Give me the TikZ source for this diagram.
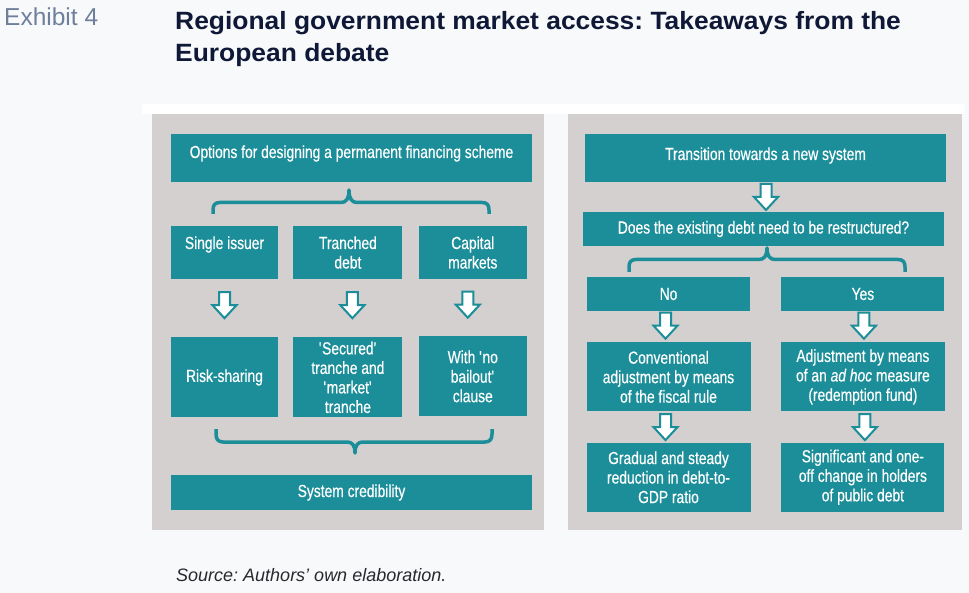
\documentclass[tikz,border=0pt]{standalone}
\usepackage{fontspec}
\setmainfont{Liberation Sans}
\newfontfamily\narrowfont[FakeStretch=0.79, FakeBold=0.4]{Liberation Sans}
\newfontfamily\titlefont[FakeStretch=1.056]{Liberation Sans}
\usepackage{xcolor}
\usetikzlibrary{positioning}
\usetikzlibrary{calc}
\definecolor{boxteal}{RGB}{27,142,153}
\definecolor{panelgray}{RGB}{211,208,207}
\definecolor{pagebg}{RGB}{248,249,251}
\definecolor{titlenavy}{RGB}{15,25,55}
\definecolor{exhibitgray}{RGB}{110,127,155}
\definecolor{sourcegray}{RGB}{40,40,45}
\tikzstyle{tbox} = [rectangle, fill=boxteal, text=white, align=center, inner sep=0pt, font=\narrowfont\fontsize{17.5}{19.5}\selectfont]
\tikzstyle{hollow} = [draw=boxteal, fill=white, line width=2pt, line join=miter]
\tikzstyle{bracel} = [draw=boxteal, line width=3.5pt, line join=round]
\tikzset{downarr/.pic={\path[hollow] (-5.5,-13) -- (5.5,-13) -- (5.5,0) -- (12,0) -- (0,13) -- (-12,0) -- (-5.5,0) -- cycle;}}
\frenchspacing

\begin{document}
\begin{tikzpicture}[x=1pt, y=-1pt]
  \useasboundingbox (0,0) rectangle (969,593);
  \fill[pagebg] (0,0) rectangle (969,593);
  \fill[white] (142,104) rectangle (965,114);
  \fill[panelgray] (152,114) rectangle (544,530);
  \fill[panelgray] (568,114) rectangle (962,530);

  \node[anchor=base west, inner sep=0pt, text=exhibitgray, font=\fontsize{24.5}{28}\selectfont] (exhibit) at (4,26) {Exhibit 4};
  \node[anchor=base west, align=left, inner sep=0pt, text=titlenavy, font=\titlefont\bfseries\fontsize{25}{32.4}\selectfont] (title) at (175,61.9) {Regional government market access: Takeaways from the\\European debate};

  % left panel
  \node[tbox, minimum width=361pt, text height=24pt, text depth=24pt] (opts) at (351.5,158) {Options for designing a permanent financing scheme};
  \node[tbox, minimum width=107pt, text height=23pt, text depth=30pt] (single) at (224.5,252.5) {Single issuer};
  \node[tbox, minimum width=109pt, text height=42.5pt, text depth=10.5pt, right=15pt of single] (tranched) {Tranched\\debt};
  \node[tbox, minimum width=108pt, text height=42.5pt, text depth=10.5pt, right=16pt of tranched] (capital) {Capital\\markets};
  \node[tbox, minimum width=107pt, minimum height=80pt, below=58pt of single] (risk) {Risk-sharing};
  \node[tbox, minimum width=109pt, minimum height=80pt, below=58pt of tranched] (secured) {\textquotesingle Secured\textquotesingle\\tranche and\\\textquotesingle market\textquotesingle\\tranche};
  \node[tbox, minimum width=108pt, minimum height=80pt, below=57pt of capital] (bailout) {With \textquotesingle no\\bailout\textquotesingle\\clause};
  \node[tbox, minimum width=361pt, minimum height=35pt] (cred) at (351.5,492.5) {System credibility};

  \pic at ($(single.south)!0.5!(risk.north)+(0,-3)$) {downarr};
  \pic at ($(tranched.south)!0.5!(secured.north)+(4.5,-3)$) {downarr};
  \pic at ($(capital.south)!0.5!(bailout.north)+(-5,-3)$) {downarr};

  \draw[bracel] (213,214) -- (213,210) .. controls (213,205) and (215,202.5) .. (220,202.5) -- (341,202.5) .. controls (346,202.5) and (349,199) .. (349,190) .. controls (349,199) and (352,202.5) .. (357,202.5) -- (482,202.5) .. controls (487,202.5) and (489,205) .. (489,210) -- (489,214);
  \draw[bracel] (216,429) -- (216,434) .. controls (216,439) and (218,442) .. (223,442) -- (347,442) .. controls (352,442) and (355,445) .. (355,453) .. controls (355,445) and (358,442) .. (363,442) -- (485,442) .. controls (490,442) and (492,439) .. (492,434) -- (492,429);

  % right panel
  \node[tbox, minimum width=361pt, text height=26pt, text depth=22pt] (trans) at (765.5,158) {Transition towards a new system};
  \node[tbox, minimum width=361pt, minimum height=34pt] (quest) at (763.5,229) {Does the existing debt need to be restructured?};
  \node[tbox, minimum width=163pt, minimum height=34pt] (no) at (668.5,294) {No};
  \node[tbox, minimum width=163pt, minimum height=34pt, right=31pt of no] (yes) {Yes};
  \node[tbox, minimum width=164pt, minimum height=69pt, below=31pt of no] (conv) {Conventional\\adjustment by means\\of the fiscal rule};
  \node[tbox, minimum width=164pt, minimum height=69pt, below=31pt of yes] (adj) {Adjustment by means\\of an \textit{ad hoc} measure\\(redemption fund)};
  \node[tbox, minimum width=164pt, minimum height=69pt, below=31pt of conv] (grad) {Gradual and steady\\reduction in debt-to-\\GDP ratio};
  \node[tbox, minimum width=163pt, minimum height=69pt, below=31pt of adj] (sig) {Significant and one-\\off change in holders\\of public debt};

  \pic at ($(trans.south)!0.5!(quest.north)+(1.5,0)$) {downarr};
  \pic at ($(no.south)!0.5!(conv.north)+(-3,-1)$) {downarr};
  \pic at ($(yes.south)!0.5!(adj.north)+(1,-1)$) {downarr};
  \pic at ($(conv.south)!0.5!(grad.north)+(-3,0)$) {downarr};
  \pic at ($(adj.south)!0.5!(sig.north)+(2,0)$) {downarr};

  \draw[bracel] (629,272) -- (629,267) .. controls (629,262) and (631,259.5) .. (636,259.5) -- (759,259.5) .. controls (764,259.5) and (767,256) .. (767,248) .. controls (767,256) and (770,259.5) .. (775,259.5) -- (898,259.5) .. controls (903,259.5) and (905,262) .. (905,267) -- (905,272);

  \node[anchor=base west, inner sep=0pt, text=sourcegray, font=\itshape\fontsize{18}{21}\selectfont] (source) at (176,581) {Source: Authors’ own elaboration.};
\end{tikzpicture}
\end{document}
